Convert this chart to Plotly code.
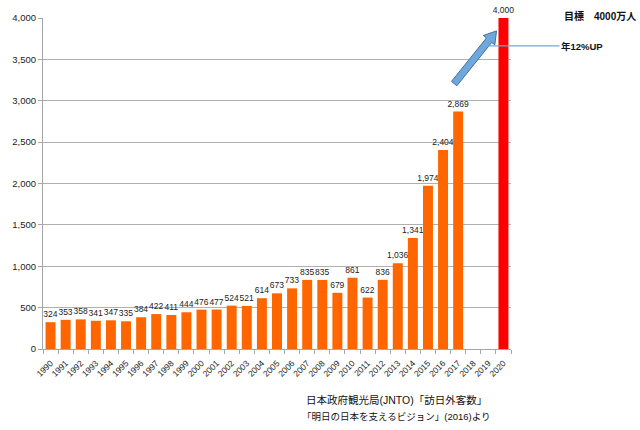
import plotly.graph_objects as go
import math

years = [str(y) for y in range(1990, 2021)]
visitors = [324, 353, 358, 341, 347, 335, 384, 422, 411, 444, 476, 477, 524, 521,
            614, 673, 733, 835, 835, 679, 861, 622, 836, 1036, 1341, 1974, 2404, 2869,
            None, None, 4000]
bar_colors = ["#FF6600"] * 30 + ["#FF0000"]
y_ticks = [0, 500, 1000, 1500, 2000, 2500, 3000, 3500, 4000]
y_tick_labels = ["0", "500", "1,000", "1,500", "2,000", "2,500", "3,000", "3,500", "4,000"]
labels = [("" if v is None else f"{v:,}") for v in visitors]

W, H = 640, 430
L, R, T, B = 35.3, 510.7, 16, 349

def px(x):
    return (x - L) / (R - L)

def py(y):
    return (B - y) / (B - T)

fig = go.Figure()
fig.add_trace(go.Bar(
    x=years, y=visitors, marker=dict(color=bar_colors, line=dict(width=0)),
    text=labels, textposition="outside", cliponaxis=False, constraintext="none",
    textangle=0,
    textfont=dict(size=8.5, color="#222222", family="Liberation Sans, Arial"),
))

# Block arrow (pixel geometry -> paper coords)
tx, ty = 453, 82
hx, hy = 496, 29
dx, dy = hx - tx, hy - ty
ln = math.hypot(dx, dy)
ux, uy = dx / ln, dy / ln
nx, ny = -uy, ux
sw, hw, hl = 3.5, 7.5, 12
bx, by = hx - ux * hl, hy - uy * hl
pts = [
    (tx + nx * sw, ty + ny * sw),
    (bx + nx * sw, by + ny * sw),
    (bx + nx * hw, by + ny * hw),
    (hx, hy),
    (bx - nx * hw, by - ny * hw),
    (bx - nx * sw, by - ny * sw),
    (tx - nx * sw, ty - ny * sw),
]
path = "M " + " L ".join(f"{px(a):.5f},{py(b):.5f}" for a, b in pts) + " Z"

fig.add_shape(type="path", path=path, xref="paper", yref="paper",
              fillcolor="#6FA8DC", line=dict(color="#41719C", width=1))
fig.add_shape(type="line", xref="paper", yref="paper",
              x0=px(487), x1=px(560), y0=py(44), y1=py(44),
              line=dict(color="#6FA8DC", width=1.2))

cjk = "Liberation Sans, Noto Sans CJK JP"
fig.add_annotation(xref="paper", yref="paper", x=px(562), y=py(14), text="<b>目標　4000万人</b>",
                   showarrow=False, xanchor="left", yanchor="middle",
                   font=dict(size=10, family=cjk, color="#111111"))
fig.add_annotation(xref="paper", yref="paper", x=px(559), y=py(45), text="<b>年12%UP</b>",
                   showarrow=False, xanchor="left", yanchor="middle",
                   font=dict(size=9.5, family=cjk, color="#111111"))
fig.add_annotation(xref="paper", yref="paper", x=px(300), y=py(400), text="日本政府観光局(JNTO)「訪日外客数」",
                   showarrow=False, xanchor="left", yanchor="middle",
                   font=dict(size=10.5, family=cjk, color="#111111"))
fig.add_annotation(xref="paper", yref="paper", x=px(296), y=py(417), text="「明日の日本を支えるビジョン」(2016)より",
                   showarrow=False, xanchor="left", yanchor="middle",
                   font=dict(size=9.5, family=cjk, color="#111111"))

fig.update_layout(
    width=W, height=H, margin=dict(l=L, r=W - R, t=T, b=H - B),
    paper_bgcolor="white", plot_bgcolor="white", showlegend=False,
    bargap=0.34,
    font=dict(family="Liberation Sans, Arial", color="#222222"),
)
fig.update_xaxes(type="category", tickangle=-45, autotickangles=[-45], tickfont=dict(size=8.5),
                 showline=True, linecolor="#A6A6A6", linewidth=1,
                 ticks="outside", tickson="boundaries", ticklen=4, tickcolor="#A6A6A6",
                 ticklabelstandoff=5, showgrid=False)
fig.update_yaxes(range=[0, 4000], tickvals=y_ticks, ticktext=y_tick_labels,
                 tickfont=dict(size=9.5), showgrid=True, gridcolor="#B0B0B0", gridwidth=1,
                 showline=True, linecolor="#A6A6A6", linewidth=1,
                 ticks="outside", ticklen=4, tickcolor="#A6A6A6", zeroline=False)

fig.write_html("out.html")
